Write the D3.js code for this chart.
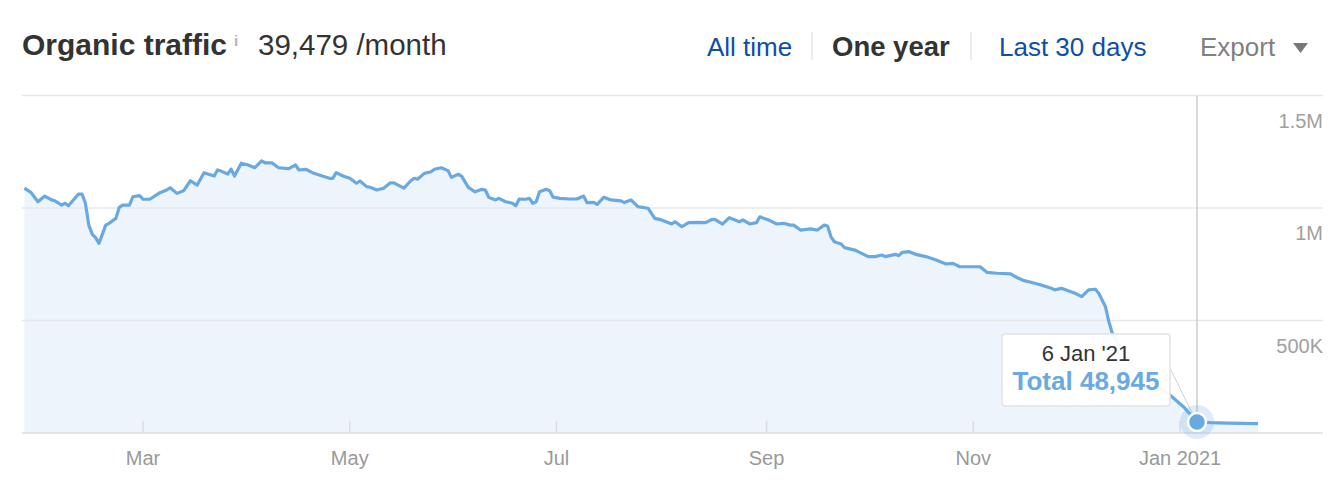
<!DOCTYPE html>
<html>
<head>
<meta charset="utf-8">
<script src="https://cdn.jsdelivr.net/npm/d3@7"></script>
<style>
  html, body { margin: 0; padding: 0; background: #fff; }
  svg { display: block; font-family: "Liberation Sans", Arial, Helvetica, sans-serif; }
</style>
</head>
<body>
<svg id="chart" width="1344" height="488"></svg>
<script>
// ---------------- data ----------------
const dates = [
  "2020-01-26","2020-01-28","2020-01-30","2020-02-01","2020-02-03","2020-02-04","2020-02-06","2020-02-07","2020-02-08","2020-02-09",
  "2020-02-11","2020-02-12","2020-02-13","2020-02-14","2020-02-15","2020-02-16","2020-02-17","2020-02-19","2020-02-20","2020-02-22",
  "2020-02-23","2020-02-24","2020-02-26","2020-02-27","2020-02-29","2020-03-01","2020-03-03","2020-03-06","2020-03-08","2020-03-09",
  "2020-03-11","2020-03-13","2020-03-15","2020-03-17","2020-03-19","2020-03-22","2020-03-23","2020-03-24","2020-03-26","2020-03-27",
  "2020-03-28","2020-03-30","2020-04-01","2020-04-03","2020-04-05","2020-04-06","2020-04-08","2020-04-10","2020-04-13","2020-04-15",
  "2020-04-16","2020-04-18","2020-04-20","2020-04-22","2020-04-25","2020-04-26","2020-04-27","2020-04-29","2020-05-01","2020-05-03",
  "2020-05-04","2020-05-06","2020-05-07","2020-05-09","2020-05-11","2020-05-13","2020-05-14","2020-05-17","2020-05-19","2020-05-20",
  "2020-05-21","2020-05-23","2020-05-25","2020-05-26","2020-05-28","2020-05-30","2020-05-31","2020-06-02","2020-06-03","2020-06-05",
  "2020-06-07","2020-06-09","2020-06-10","2020-06-11","2020-06-13","2020-06-14","2020-06-16","2020-06-18","2020-06-19","2020-06-20",
  "2020-06-22","2020-06-23","2020-06-24","2020-06-25","2020-06-26","2020-06-28","2020-06-29","2020-06-30","2020-07-02","2020-07-05",
  "2020-07-07","2020-07-09","2020-07-10","2020-07-12","2020-07-13","2020-07-15","2020-07-17","2020-07-20","2020-07-21","2020-07-23",
  "2020-07-25","2020-07-28","2020-07-30","2020-08-01","2020-08-04","2020-08-05","2020-08-07","2020-08-09","2020-08-12","2020-08-14",
  "2020-08-16","2020-08-17","2020-08-19","2020-08-21","2020-08-24","2020-08-25","2020-08-27","2020-08-29","2020-08-30","2020-09-02",
  "2020-09-04","2020-09-06","2020-09-08","2020-09-09","2020-09-11","2020-09-14","2020-09-16","2020-09-18","2020-09-19","2020-09-20",
  "2020-09-21","2020-09-23","2020-09-24","2020-09-27","2020-09-28","2020-10-01","2020-10-03","2020-10-05","2020-10-06","2020-10-09",
  "2020-10-10","2020-10-11","2020-10-13","2020-10-15","2020-10-18","2020-10-21","2020-10-24","2020-10-26","2020-10-28","2020-10-31",
  "2020-11-03","2020-11-05","2020-11-08","2020-11-12","2020-11-14","2020-11-16","2020-11-18","2020-11-21","2020-11-24","2020-11-25",
  "2020-11-27","2020-12-01","2020-12-03","2020-12-05","2020-12-07","2020-12-08","2020-12-10","2020-12-11","2020-12-12","2020-12-14",
  "2020-12-16","2020-12-19","2020-12-22","2020-12-25","2020-12-29","2021-01-02","2021-01-06","2021-01-10","2021-01-15","2021-01-24"
];
const traffic = [
  1088000,1068000,1028000,1053000,1036000,1032000,1013000,1021000,1010000,1028000,
  1062000,1062000,1021000, 924000, 884000, 868000, 843000, 924000, 932000, 954000,
  1003000,1013000,1013000,1050000,1055000,1039000,1039000,1068000,1080000,1090000,
  1065000,1077000,1121000,1102000,1157000,1142000,1169000,1164000,1151000,1173000,
  1142000,1199000,1191000,1179000,1209000,1201000,1201000,1179000,1175000,1191000,
  1169000,1172000,1157000,1147000,1132000,1132000,1157000,1142000,1132000,1110000,
  1120000,1095000,1092000,1080000,1088000,1112000,1112000,1088000,1121000,1132000,
  1128000,1154000,1161000,1172000,1179000,1166000,1136000,1150000,1142000,1092000,
  1072000,1083000,1080000,1048000,1036000,1043000,1028000,1021000,1010000,1040000,
  1039000,1043000,1021000,1028000,1072000,1083000,1077000,1048000,1043000,1040000,
  1040000,1053000,1024000,1025000,1016000,1048000,1036000,1032000,1024000,1036000,
  1006000, 999000, 954000, 947000, 929000, 939000, 917000, 935000, 936000, 935000,
   950000, 947000, 928000, 957000, 939000, 947000, 929000, 935000, 961000, 944000,
   929000, 932000, 924000, 924000, 902000, 907000, 902000, 924000, 920000, 872000,
   850000, 840000, 824000, 813000, 806000, 784000, 784000, 791000, 784000, 794000,
   788000, 803000, 806000, 794000, 784000, 769000, 751000, 754000, 739000, 739000,
   739000, 714000, 710000, 707000, 690000, 677000, 670000, 658000, 643000, 636000,
   643000, 621000, 606000, 636000, 639000, 621000, 561000, 495000, 443000, 391000,
   342000, 289000, 244000, 209000, 169000, 117000,  48945,  46000,  44000,  42000
];
const yTicks = [0, 500000, 1000000, 1500000];
const yTickLabels = ["", "500K", "1M", "1.5M"];
const tabs = ["All time", "One year", "Last 30 days"];
const focusDate = "2021-01-06";

// ---------------- layout ----------------
const svg = d3.select("#chart");
const plotLeft = 22, plotRight = 1323, plotTop = 95.5, plotBottom = 433;
const parse = d3.utcParse("%Y-%m-%d");
const data = dates.map((d, i) => ({ date: parse(d), value: traffic[i] }));

const x = d3.scaleUtc()
  .domain(d3.extent(data, d => d.date))
  .range([24.4, 1258]);
const y = d3.scaleLinear()
  .domain([0, 1500000])
  .range([plotBottom, plotTop]);

// header
const header = svg.append("g");
header.append("text")
  .attr("x", 22).attr("y", 55)
  .attr("font-size", 30).attr("font-weight", "bold").attr("fill", "#333")
  .text("Organic traffic");
header.append("text")
  .attr("x", 234).attr("y", 46)
  .attr("font-size", 15).attr("font-weight", "bold").attr("fill", "#b5b5b5")
  .text("i");
header.append("text")
  .attr("x", 258).attr("y", 55)
  .attr("font-size", 29.5).attr("fill", "#333")
  .text("39,479 /month");

const tabX = [707, 832, 999];
tabs.forEach((t, i) => {
  header.append("text")
    .attr("x", tabX[i]).attr("y", 56)
    .attr("font-size", i === 1 ? 27.5 : 26)
    .attr("font-weight", i === 1 ? "bold" : "normal")
    .attr("fill", i === 1 ? "#333" : "#0d4ea6")
    .text(t);
});
[812, 971].forEach(sx => {
  header.append("line")
    .attr("x1", sx).attr("x2", sx).attr("y1", 32).attr("y2", 60)
    .attr("stroke", "#e6e6e6").attr("stroke-width", 1.5);
});
header.append("text")
  .attr("x", 1200).attr("y", 56)
  .attr("font-size", 26).attr("fill", "#808080")
  .text("Export");
header.append("path")
  .attr("d", "M1293,43 L1308,43 L1300.5,53 Z")
  .attr("fill", "#777");

// area + line generators
const area = d3.area()
  .x(d => x(d.date)).y0(y(0)).y1(d => y(d.value))
  .curve(d3.curveLinear);
const line = d3.line()
  .x(d => x(d.date)).y(d => y(d.value))
  .curve(d3.curveLinear);

svg.append("path").datum(data)
  .attr("d", area)
  .attr("fill", "#eef4fc");

// gridlines
svg.append("g").selectAll("line")
  .data(yTicks)
  .join("line")
  .attr("x1", plotLeft).attr("x2", plotRight)
  .attr("y1", d => y(d)).attr("y2", d => y(d))
  .attr("stroke", d => d === 0 ? "#dedede" : "#e6e8eb")
  .attr("stroke-width", 1.5);

// x axis ticks (inside, upward)
const xTicks = x.ticks(d3.utcMonth.every(2));
const fmt = d => d.getUTCMonth() === 0 ? d3.utcFormat("%b %Y")(d) : d3.utcFormat("%b")(d);
const xAxis = svg.append("g");
xAxis.selectAll("line")
  .data(xTicks)
  .join("line")
  .attr("x1", d => x(d)).attr("x2", d => x(d))
  .attr("y1", plotBottom - 12).attr("y2", plotBottom)
  .attr("stroke", "#dddddd").attr("stroke-width", 1.5);
xAxis.selectAll("text")
  .data(xTicks)
  .join("text")
  .attr("x", d => x(d)).attr("y", 465)
  .attr("text-anchor", "middle")
  .attr("font-size", 20).attr("fill", "#999")
  .text(fmt);

// y labels
svg.append("g").selectAll("text")
  .data(yTicks)
  .join("text")
  .attr("x", plotRight).attr("y", d => y(d) + 32)
  .attr("text-anchor", "end")
  .attr("font-size", 20).attr("fill", "#a0a0a0")
  .text((d, i) => yTickLabels[i]);

// crosshair
const fd = data.find(d => +d.date === +parse(focusDate));
const fx = x(fd.date), fy = y(fd.value);
svg.append("line")
  .attr("x1", fx).attr("x2", fx).attr("y1", plotTop).attr("y2", plotBottom)
  .attr("stroke", "#cccccc").attr("stroke-width", 1.5);

svg.append("path").datum(data)
  .attr("d", line)
  .attr("fill", "none")
  .attr("stroke", "#68a9e2")
  .attr("stroke-width", 3.2)
  .attr("stroke-linejoin", "round");

// tooltip
const tip = svg.append("g");
const bw = 168, bh = 72;
const bx = fx - 27 - bw, by = fy - 88;
tip.append("line")
  .attr("x1", bx + bw).attr("y1", by + 34)
  .attr("x2", fx - 2).attr("y2", fy - 3)
  .attr("stroke", "#d0d0d0").attr("stroke-width", 1);
tip.append("rect")
  .attr("x", bx).attr("y", by).attr("width", bw).attr("height", bh)
  .attr("rx", 3)
  .attr("fill", "#fff").attr("fill-opacity", 0.95)
  .attr("stroke", "#e2e2e2").attr("stroke-width", 1.5);
tip.append("text")
  .attr("x", bx + bw / 2).attr("y", by + 27)
  .attr("text-anchor", "middle")
  .attr("font-size", 22).attr("fill", "#333")
  .text(d3.utcFormat("%-d %b '%y")(fd.date));
tip.append("text")
  .attr("x", bx + bw / 2).attr("y", by + 56)
  .attr("text-anchor", "middle")
  .attr("font-size", 26).attr("font-weight", "bold").attr("fill", "#69aae4")
  .text("Total " + d3.format(",")(fd.value));

// focus dot
svg.append("circle")
  .attr("cx", fx).attr("cy", fy).attr("r", 17)
  .attr("fill", "#68a9e2").attr("fill-opacity", 0.22);
svg.append("circle")
  .attr("cx", fx).attr("cy", fy).attr("r", 9)
  .attr("fill", "#68a9e2")
  .attr("stroke", "#fff").attr("stroke-width", 2.5);
</script>
</body>
</html>
